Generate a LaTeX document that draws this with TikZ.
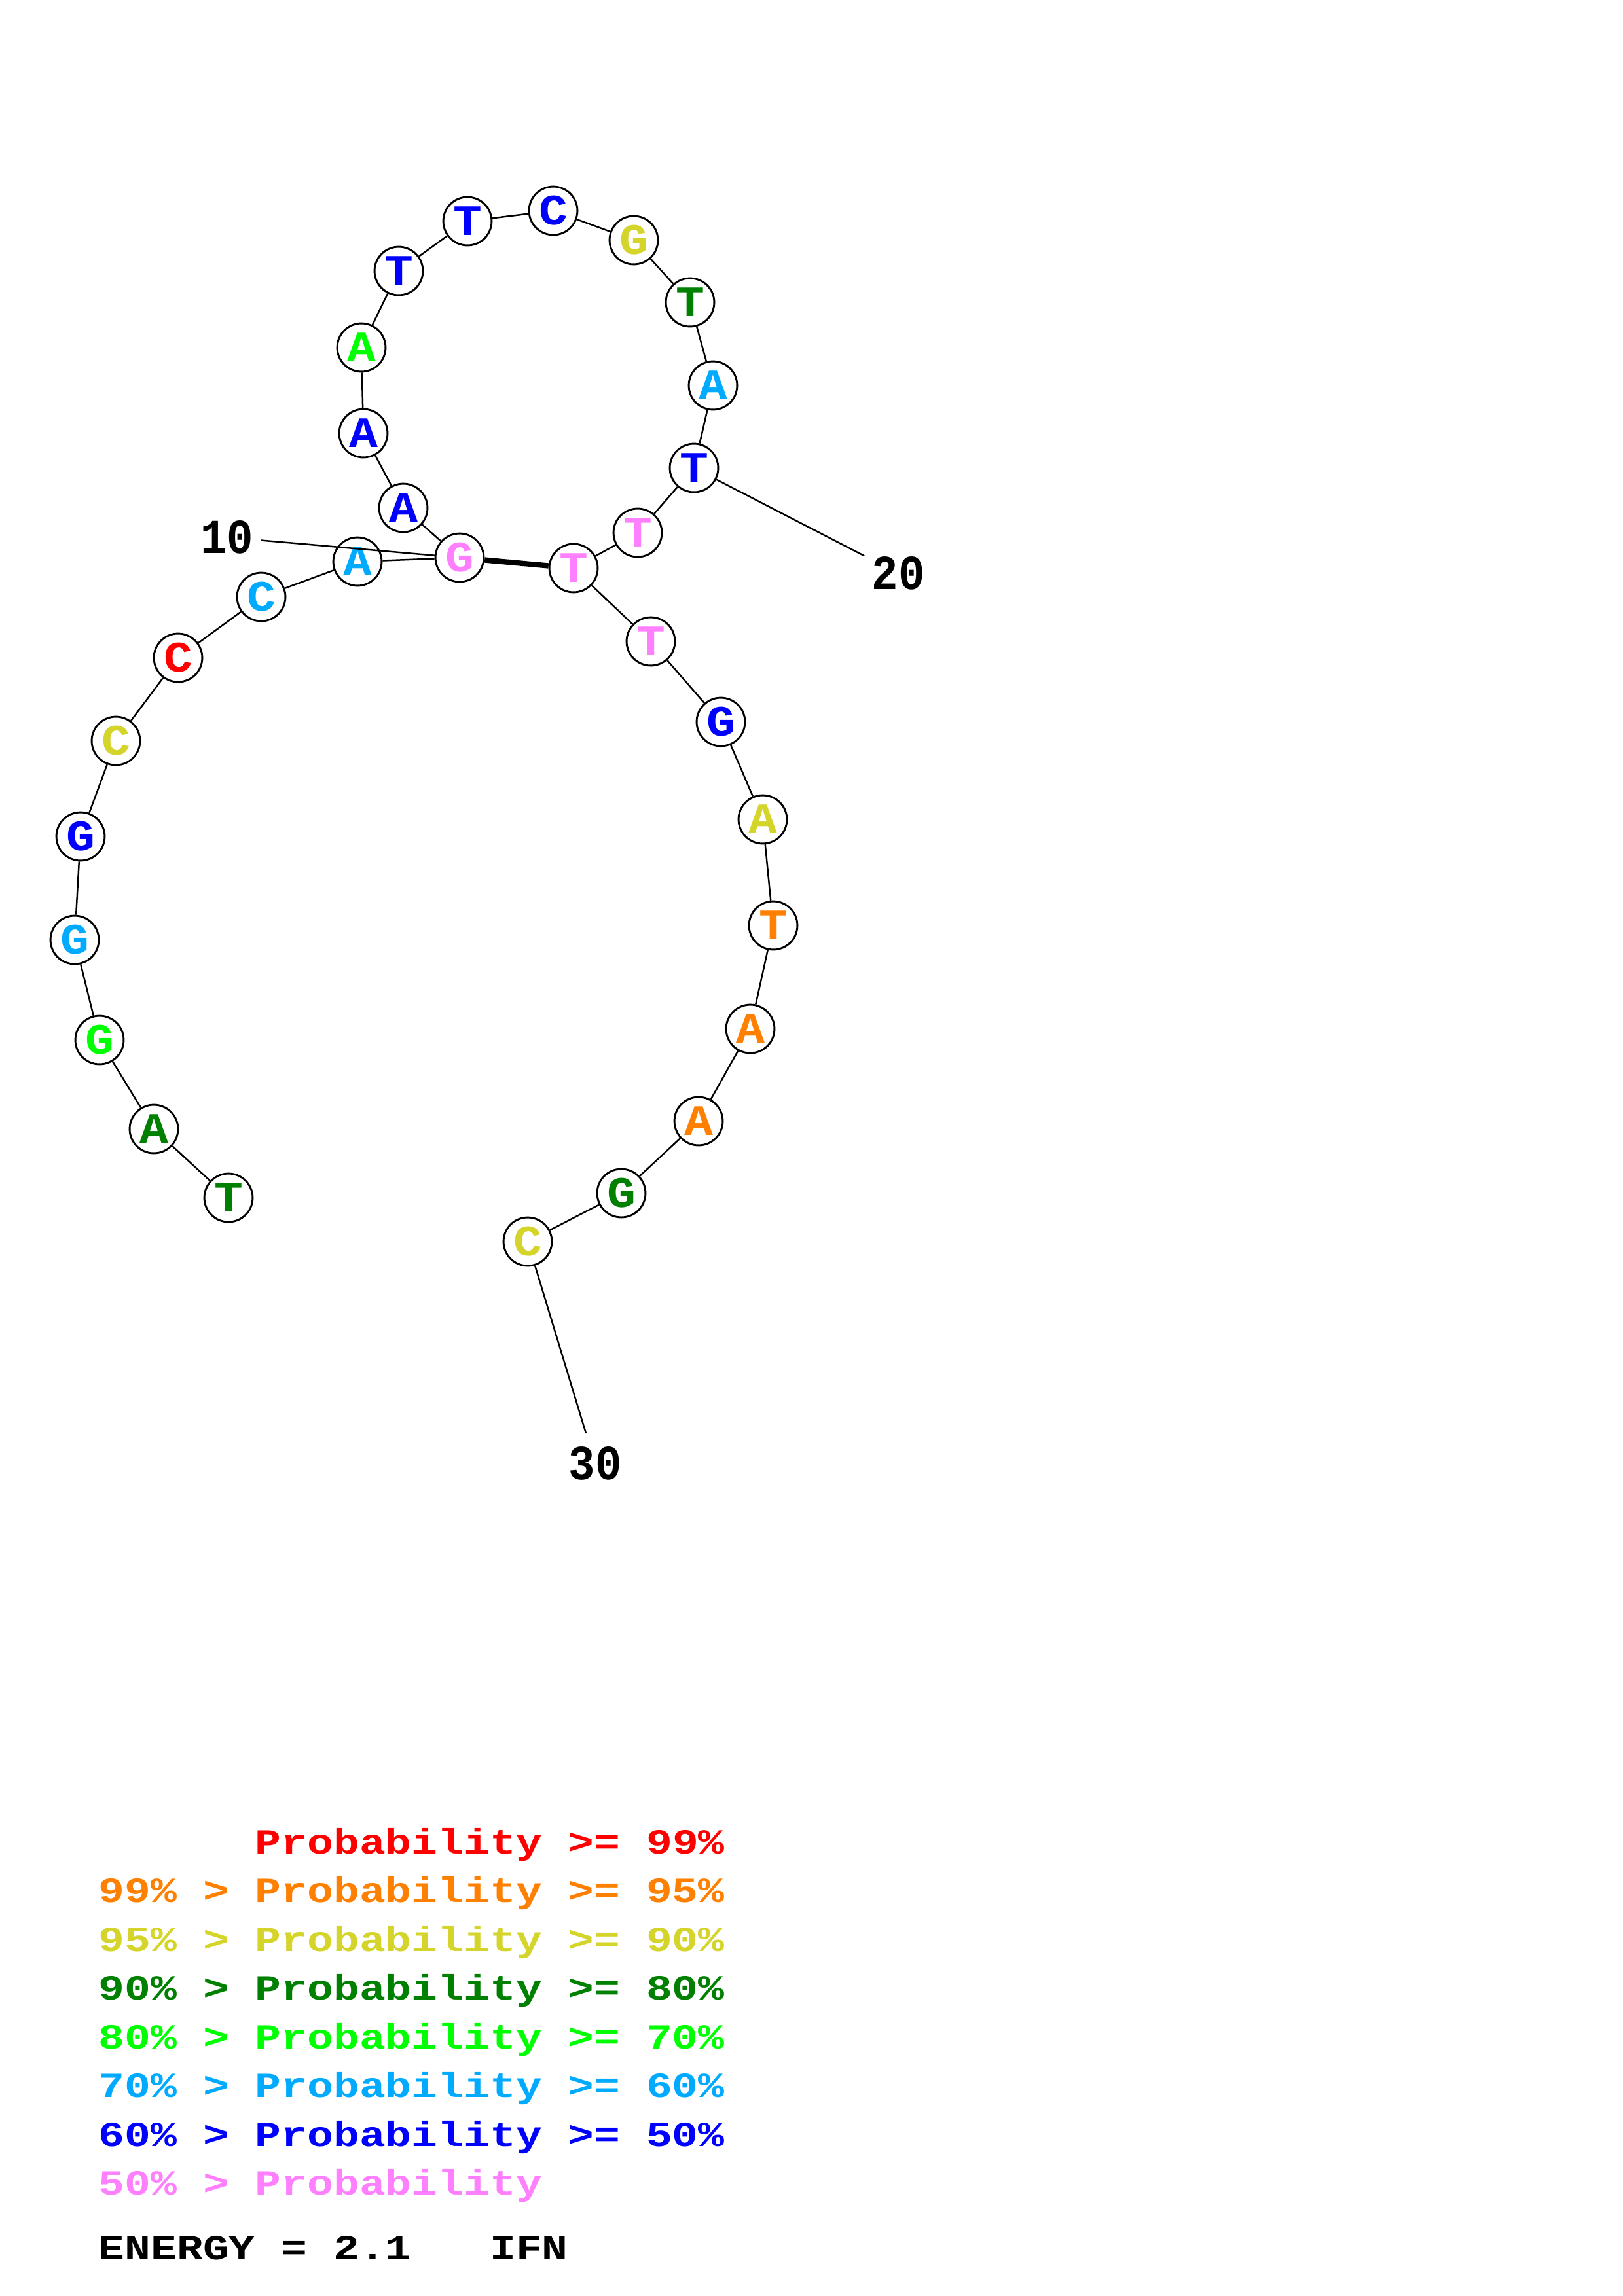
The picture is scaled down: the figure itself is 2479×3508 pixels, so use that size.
\documentclass[tikz,border=0pt]{standalone}
\usepackage{fontspec}
\newfontfamily\nucfont[FakeStretch=1.1]{Liberation Mono}
\newfontfamily\legfont[FakeStretch=1.23]{Liberation Mono}
\newfontfamily\numfont[FakeStretch=0.9]{Liberation Mono}
\definecolor{pr99}{HTML}{FF0000}
\definecolor{pr95}{HTML}{FF8000}
\definecolor{pr90}{HTML}{D4D42A}
\definecolor{pr80}{HTML}{008000}
\definecolor{pr70}{HTML}{00FF00}
\definecolor{pr60}{HTML}{00AAFF}
\definecolor{pr50}{HTML}{0000FF}
\definecolor{prlow}{HTML}{FF80FF}
\tikzset{
  nuc/.style={circle,draw,line width=0.7pt,minimum size=17.8pt,inner sep=0pt,
    font=\nucfont\bfseries\fontsize{16pt}{16pt}\selectfont},
  seqnum/.style={inner xsep=2.6pt,inner ysep=4.8pt,
    font=\numfont\bfseries\fontsize{18pt}{18pt}\selectfont},
  legend/.style={anchor=base west,inner sep=0pt,
    font=\legfont\bfseries\fontsize{13pt}{13pt}\selectfont},
  bond/.style={line width=0.6pt},
  pair/.style={line width=2pt}
}

\begin{document}
\begin{tikzpicture}[x=0.0846667mm,y=-0.0846667mm]
\useasboundingbox (0,0) rectangle (2479,3508);
\foreach \n/\x/\y/\b/\c in {1/349/1830/T/pr80,2/235/1725/A/pr80,3/152/1589/G/pr70,
  4/114/1436/G/pr60,5/123/1278/G/pr50,6/177/1132/C/pr90,7/272/1005/C/pr99,
  8/399/912/C/pr60,9/546/858/A/pr60,10/702/852/G/prlow,11/616/776/A/pr50,
  12/555/662/A/pr50,13/552/531/A/pr70,14/609/414/T/pr50,15/714/338/T/pr50,
  16/845/322/C/pr50,17/968/367/G/pr90,18/1054/462/T/pr80,19/1089/589/A/pr60,
  20/1060/715/T/pr50,21/974/814/T/prlow,22/876/868/T/prlow,23/994/980/T/prlow,
  24/1101/1103/G/pr50,25/1165/1252/A/pr90,26/1181/1414/T/pr95,27/1146/1572/A/pr95,
  28/1067/1713/A/pr95,29/949/1823/G/pr80,30/806/1897/C/pr90} {%
  \node[nuc,text=\c] (n\n) at (\x,\y) {\b};
}
\node[seqnum] (l10) at (347,821) {10};
\node[seqnum] (l20) at (1372,876) {20};
\node[seqnum] (l30) at (909,2236) {30};
\foreach \i in {1,...,29} {%
  \pgfmathtruncatemacro\j{\i+1}
  \draw[bond] (n\i) -- (n\j);
}
\draw[pair] (n10) -- (n22);
\draw[bond] (n10) -- (l10);
\draw[bond] (n20) -- (l20);
\draw[bond] (n30) -- (l30);
% legend
\foreach \k/\c/\t in {0/pr99/{\phantom{99\% > }Probability >= 99\%},
  1/pr95/{99\% > Probability >= 95\%},2/pr90/{95\% > Probability >= 90\%},
  3/pr80/{90\% > Probability >= 80\%},4/pr70/{80\% > Probability >= 70\%},
  5/pr60/{70\% > Probability >= 60\%},6/pr50/{60\% > Probability >= 50\%},
  7/prlow/{50\% > Probability}} {%
  \node[legend,text=\c] (leg\k) at (150,{2832+74.5*\k}) {\t};
}
\node[legend] (energy) at (150,3452) {ENERGY = 2.1~~~IFN};
\end{tikzpicture}
\end{document}
